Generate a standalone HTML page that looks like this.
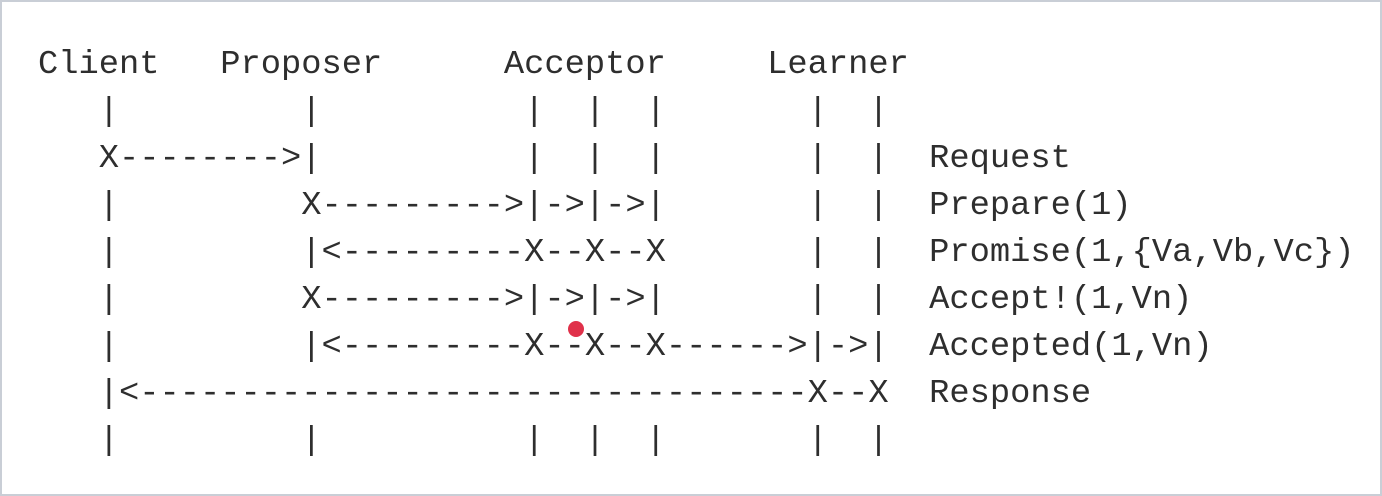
<!DOCTYPE html>
<html>
<head>
<meta charset="utf-8">
<style>
  html,body{margin:0;padding:0;background:#fff;}
  #frame{position:relative;width:1382px;height:496px;box-sizing:border-box;border:2px solid #c9ced6;background:#fff;overflow:hidden;}
  #diagram{position:absolute;left:36px;top:40px;margin:0;font-family:"Liberation Mono",monospace;font-size:33.75px;line-height:47px;color:#2e2e2e;white-space:pre;}
  #dot{position:absolute;left:566px;top:319px;width:16px;height:16px;border-radius:50%;background:#e0314a;}
</style>
</head>
<body>
<div id="frame">
<pre id="diagram">Client   Proposer      Acceptor     Learner
   |         |          |  |  |       |  |
   X-------->|          |  |  |       |  |  Request
   |         X--------->|->|->|       |  |  Prepare(1)
   |         |&lt;---------X--X--X       |  |  Promise(1,{Va,Vb,Vc})
   |         X--------->|->|->|       |  |  Accept!(1,Vn)
   |         |&lt;---------X--X--X------>|->|  Accepted(1,Vn)
   |&lt;---------------------------------X--X  Response
   |         |          |  |  |       |  |</pre>
<div id="dot"></div>
</div>
</body>
</html>
